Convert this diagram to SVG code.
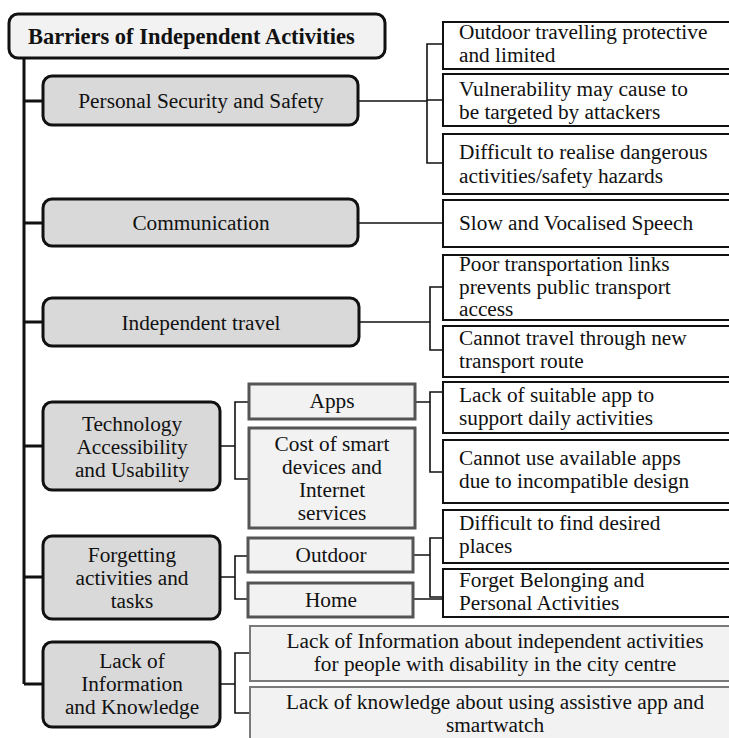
<svg xmlns="http://www.w3.org/2000/svg" width="729" height="738" viewBox="0 0 729 738" font-family="Liberation Serif, Times New Roman, serif">
  <style>
    text { font-size: 21.3px; fill: #111; }
    .mid { text-anchor: middle; }
    .title { font-weight: bold; font-size: 22.5px; }
    .root { fill: #f2f2f2; stroke: #111; stroke-width: 3; }
    .cat { fill: #d9d9d9; stroke: #111; stroke-width: 3; }
    .sub { fill: #f2f2f2; stroke: #555; stroke-width: 3; }
    .leaf { fill: #fff; stroke: #111; stroke-width: 2; }
    .info { fill: #f2f2f2; stroke: #7a7a7a; stroke-width: 2; }
    .trunk { fill: none; stroke: #111; stroke-width: 3; }
    .link { fill: none; stroke: #111; stroke-width: 1.6; }
  </style>

  <!-- connectors -->
  <g id="connectors">
    <path class="trunk" d="M24 58 V684 M24 101 H43 M24 223 H43 M24 322 H43 M24 446 H43 M24 577 H43 M24 684 H43"/>
    <!-- personal security -->
    <path class="link" d="M358 101 H427 M443 44 H427 V163 H443 M427 100 H443"/>
    <!-- communication -->
    <path class="link" d="M358 223 H443"/>
    <!-- independent travel -->
    <path class="link" d="M359 322 H430 M443 287 H430 V350 H443"/>
    <!-- technology -->
    <path class="link" d="M220 446 H235 M249 402 H235 V479 H249"/>
    <path class="link" d="M415 402 H430 M443 392 H430 V472 H443"/>
    <!-- forgetting -->
    <path class="link" d="M220 577 H235 M248 556 H235 V599 H248"/>
    <path class="link" d="M413 555 H430 M443 538 H430 V597 H443 M413 599 H443"/>
    <!-- lack of information -->
    <path class="link" d="M220 684 H235 M250 653 H235 V713 H250"/>
  </g>

  <g id="root">
    <rect class="root" x="9" y="14" width="376" height="44" rx="9"/>
    <text class="title" x="28" y="44">Barriers of Independent Activities</text>
  </g>

  <g id="personal-security">
    <rect class="cat" x="43" y="76" width="315" height="49" rx="9"/>
    <text class="mid" x="201" y="108">Personal Security and Safety</text>
  </g>
  <g id="ps-1">
    <rect class="leaf" x="443" y="22" width="300" height="47"/>
    <text x="459" y="39">Outdoor travelling protective<tspan x="459" y="62">and limited</tspan></text>
  </g>
  <g id="ps-2">
    <rect class="leaf" x="443" y="74" width="300" height="52"/>
    <text x="459" y="96">Vulnerability may cause to<tspan x="459" y="119">be targeted by attackers</tspan></text>
  </g>
  <g id="ps-3">
    <rect class="leaf" x="443" y="134" width="300" height="60"/>
    <text x="459" y="159">Difficult to realise dangerous<tspan x="459" y="183">activities/safety hazards</tspan></text>
  </g>

  <g id="communication">
    <rect class="cat" x="43" y="199" width="315" height="47" rx="9"/>
    <text class="mid" x="201" y="230">Communication</text>
  </g>
  <g id="comm-1">
    <rect class="leaf" x="443" y="200" width="300" height="47"/>
    <text x="459" y="230">Slow and Vocalised Speech</text>
  </g>

  <g id="independent-travel">
    <rect class="cat" x="43" y="298" width="316" height="48" rx="9"/>
    <text class="mid" x="201" y="330">Independent travel</text>
  </g>
  <g id="it-1">
    <rect class="leaf" x="443" y="255" width="300" height="65"/>
    <text x="459" y="271">Poor transportation links<tspan x="459" y="294">prevents public transport</tspan><tspan x="459" y="316">access</tspan></text>
  </g>
  <g id="it-2">
    <rect class="leaf" x="443" y="326" width="300" height="51"/>
    <text x="459" y="345">Cannot travel through new<tspan x="459" y="368">transport route</tspan></text>
  </g>

  <g id="technology">
    <rect class="cat" x="43" y="402" width="177" height="88" rx="9"/>
    <text class="mid" x="132" y="431">Technology<tspan x="132" y="454">Accessibility</tspan><tspan x="132" y="477">and Usability</tspan></text>
  </g>
  <g id="apps">
    <rect class="sub" x="249" y="384" width="166" height="35"/>
    <text class="mid" x="332" y="408">Apps</text>
  </g>
  <g id="cost">
    <rect class="sub" x="249" y="428" width="166" height="100"/>
    <text class="mid" x="332" y="451">Cost of smart<tspan x="332" y="474">devices and</tspan><tspan x="332" y="497">Internet</tspan><tspan x="332" y="520">services</tspan></text>
  </g>
  <g id="apps-1">
    <rect class="leaf" x="443" y="382" width="300" height="51"/>
    <text x="459" y="402">Lack of suitable app to<tspan x="459" y="425">support daily activities</tspan></text>
  </g>
  <g id="apps-2">
    <rect class="leaf" x="443" y="440" width="300" height="63"/>
    <text x="459" y="465">Cannot use available apps<tspan x="459" y="488">due to incompatible design</tspan></text>
  </g>

  <g id="forgetting">
    <rect class="cat" x="43" y="536" width="177" height="83" rx="9"/>
    <text class="mid" x="132" y="562">Forgetting<tspan x="132" y="585">activities and</tspan><tspan x="132" y="608">tasks</tspan></text>
  </g>
  <g id="outdoor">
    <rect class="sub" x="248" y="538" width="165" height="34"/>
    <text class="mid" x="331" y="562">Outdoor</text>
  </g>
  <g id="home">
    <rect class="sub" x="248" y="583" width="165" height="34"/>
    <text class="mid" x="331" y="607">Home</text>
  </g>
  <g id="fg-1">
    <rect class="leaf" x="443" y="510" width="300" height="53"/>
    <text x="459" y="530">Difficult to find desired<tspan x="459" y="553">places</tspan></text>
  </g>
  <g id="fg-2">
    <rect class="leaf" x="443" y="569" width="300" height="48"/>
    <text x="459" y="587">Forget Belonging and<tspan x="459" y="610">Personal Activities</tspan></text>
  </g>

  <g id="lack-information">
    <rect class="cat" x="43" y="642" width="177" height="85" rx="9"/>
    <text class="mid" x="132" y="668">Lack of<tspan x="132" y="691">Information</tspan><tspan x="132" y="714">and Knowledge</tspan></text>
  </g>
  <g id="li-1">
    <rect class="info" x="250" y="626" width="490" height="55"/>
    <text class="mid" x="495" y="648">Lack of Information about independent activities<tspan x="495" y="671">for people with disability in the city centre</tspan></text>
  </g>
  <g id="li-2">
    <rect class="info" x="250" y="687" width="490" height="60"/>
    <text class="mid" x="495" y="709">Lack of knowledge about using assistive app and<tspan x="495" y="732">smartwatch</tspan></text>
  </g>
</svg>
